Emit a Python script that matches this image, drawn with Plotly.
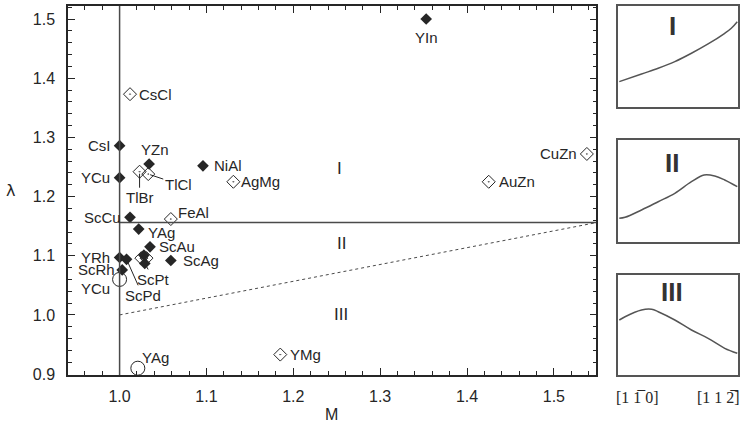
import plotly.graph_objects as go

# ---------------- data ----------------
filled_names = ["YIn", "CsI", "YZn", "NiAl", "YCu", "ScCu", "YAg", "ScAu", "ScAg",
                "YRh", "ScPd", "ScRh", "ScPt", ""]
filled_M = [1.353, 1.000, 1.034, 1.096, 1.000, 1.012, 1.022, 1.035, 1.059,
            1.000, 1.008, 1.003, 1.029, 1.028]
filled_L = [1.500, 1.286, 1.255, 1.252, 1.232, 1.165, 1.145, 1.115, 1.092,
            1.097, 1.094, 1.076, 1.087, 1.101]

open_names = ["CsCl", "TlBr", "TlCl", "AgMg", "AuZn", "CuZn", "FeAl", "YMg", "", ""]
open_M = [1.012, 1.023, 1.033, 1.131, 1.425, 1.538, 1.059, 1.185, 1.025, 1.031]
open_L = [1.373, 1.242, 1.238, 1.225, 1.225, 1.272, 1.162, 0.933, 1.096, 1.096]

circle_names = ["YCu", "YAg"]
circle_M = [1.000, 1.021]
circle_L = [1.060, 0.910]

boundary_M = 1.0
boundary_L = 1.156
dotted_M = [1.0, 1.549]
dotted_L = [1.0, 1.156]

region_names = ["I", "II", "III"]
region_M = [1.253, 1.255, 1.255]
region_L = [1.248, 1.120, 1.000]

# right-hand panels (normalised position along direction, normalised energy)
panel_x_I = [0.008, 0.194, 0.333, 0.472, 0.611, 0.750, 0.889, 0.944, 0.994]
panel_y_I = [0.251, 0.327, 0.383, 0.449, 0.532, 0.624, 0.730, 0.780, 0.845]
panel_x_II = [0.008, 0.056, 0.194, 0.333, 0.472, 0.611, 0.717, 0.806, 0.889, 0.994]
panel_y_II = [0.232, 0.242, 0.314, 0.395, 0.477, 0.591, 0.657, 0.647, 0.608, 0.542]
panel_x_III = [0.008, 0.056, 0.194, 0.278, 0.333, 0.472, 0.611, 0.750, 0.889, 0.994]
panel_y_III = [0.550, 0.583, 0.650, 0.657, 0.633, 0.550, 0.450, 0.367, 0.267, 0.217]
panel_tick_labels = ["[1 1\u0305 0]", "[1 1 2\u0305]"]

# ---------------- styling ----------------
DARK = "#262626"
GRAY = "#4a4a4a"
FONT = "Liberation Sans, Arial, sans-serif"
LAB = dict(family=FONT, size=15, color=DARK)

# label placement: (anchor, xshift, yshift, arrow ax, arrow ay)
filled_place = {
    "YIn": ("center", 0, -18, None, None),
    "CsI": ("right", -7, 0, None, None),
    "YZn": ("center", 6, 15, None, None),
    "NiAl": ("left", 9, 0, None, None),
    "YCu": ("right", -8, 0, None, None),
    "ScCu": ("right", -7, 0, None, None),
    "YAg": ("left", 7, -3, None, None),
    "ScAu": ("left", 7, 0, None, None),
    "ScAg": ("left", 10, 0, None, None),
    "YRh": ("right", -8, 0, None, None),
    "ScPd": ("arrow", 0, 0, 16, 36),
    "ScRh": ("right", -5, 0, None, None),
    "ScPt": ("arrow", 0, 0, 9, 16),
}
open_place = {
    "CsCl": ("left", 7, 0, None, None),
    "TlBr": ("arrow", 0, 0, 0, 26),
    "TlCl": ("arrow", 0, 0, 30, 10),
    "AgMg": ("left", 6, 0, None, None),
    "AuZn": ("left", 8, 0, None, None),
    "CuZn": ("right", -8, 0, None, None),
    "FeAl": ("left", 5, 7, None, None),
    "YMg": ("left", 8, 0, None, None),
}
circle_place = {
    "YCu": ("right", -8, -9, None, None),
    "YAg": ("left", 2, 11, None, None),
}

fig = go.Figure()

# dotted II/III boundary
fig.add_trace(go.Scatter(x=dotted_M, y=dotted_L, mode="lines",
                         line=dict(color=GRAY, width=1, dash="dot"),
                         hoverinfo="skip", showlegend=False))

fig.add_trace(go.Scatter(x=filled_M, y=filled_L, mode="markers",
                         marker=dict(symbol="diamond", size=9, color=DARK,
                                     line=dict(width=0)),
                         showlegend=False))
fig.add_trace(go.Scatter(x=open_M, y=open_L, mode="markers",
                         marker=dict(symbol="diamond-open-dot", size=10, color=DARK,
                                     line=dict(width=1, color=DARK)),
                         showlegend=False))
fig.add_trace(go.Scatter(x=circle_M, y=circle_L, mode="markers",
                         marker=dict(symbol="circle-open", size=14, color=DARK,
                                     line=dict(width=1, color=DARK)),
                         showlegend=False))

# boundary lines
fig.add_shape(type="line", xref="x", yref="y domain", x0=boundary_M, x1=boundary_M,
              y0=0, y1=1, line=dict(color=GRAY, width=1.5))
fig.add_shape(type="line", xref="x", yref="y", x0=boundary_M, x1=dotted_M[1],
              y0=boundary_L, y1=boundary_L, line=dict(color=GRAY, width=1.5))

annotations = []


def add_labels(names, xs, ys, place):
    for n, x, y in zip(names, xs, ys):
        if n not in place:
            continue
        anc, xs_, ys_, ax, ay = place[n]
        if anc == "arrow":
            annotations.append(dict(x=x, y=y, xref="x", yref="y", text=n, font=LAB,
                                    showarrow=True, arrowhead=0, arrowwidth=1,
                                    arrowcolor=DARK, ax=ax, ay=ay, standoff=2))
        else:
            annotations.append(dict(x=x, y=y, xref="x", yref="y", text=n, font=LAB,
                                    showarrow=False, xanchor=anc, yanchor="middle",
                                    xshift=xs_, yshift=ys_))


add_labels(filled_names, filled_M, filled_L, filled_place)
add_labels(open_names, open_M, open_L, open_place)
add_labels(circle_names, circle_M, circle_L, circle_place)

for n, x, y in zip(region_names, region_M, region_L):
    annotations.append(dict(x=x, y=y, xref="x", yref="y", text=n, showarrow=False,
                            font=dict(family=FONT, size=17, color=DARK)))

# axis titles
annotations.append(dict(x=-0.0863, y=0.50, xref="paper", yref="paper", text="λ",
                        xanchor="center", yanchor="middle",
                        showarrow=False, font=dict(family="DejaVu Sans", size=16, color=DARK)))
annotations.append(dict(x=0.394, y=-0.106, xref="paper", yref="paper", text="M",
                        xanchor="center", yanchor="middle",
                        showarrow=False, font=dict(family=FONT, size=16, color=DARK)))

# right-hand panels
panels = [("I", panel_x_I, panel_y_I, [0.7263, 1.0], 0.80),
          ("II", panel_x_II, panel_y_II, [0.3604, 0.6369], 0.77),
          ("III", panel_x_III, panel_y_III, [0.0, 0.271], 0.83)]
for i, (lab, px, py, dom, ly) in enumerate(panels, start=2):
    fig.add_trace(go.Scatter(x=px, y=py, mode="lines", xaxis=f"x{i}", yaxis=f"y{i}",
                             line=dict(color="#555555", width=1.5, shape="spline"),
                             hoverinfo="skip", showlegend=False))
    ax_common = dict(range=[0, 1], showticklabels=False, ticks="", showgrid=False,
                     zeroline=False, showline=True, mirror=True,
                     linecolor="#555555", linewidth=1.5)
    fig.update_layout(**{f"xaxis{i}": dict(domain=[0.8214, 1.0], anchor=f"y{i}", **ax_common),
                         f"yaxis{i}": dict(domain=dom, anchor=f"x{i}", **ax_common)})
    annotations.append(dict(x=0.45, y=ly, xref=f"x{i}", yref=f"y{i}", text=f"<b>{lab}</b>",
                            showarrow=False, font=dict(family=FONT, size=26, color="#333333")))

annotations.append(dict(x=0.158, y=-0.061, xref="x4", yref="paper", text=panel_tick_labels[0],
                        xanchor="center", yanchor="middle",
                        showarrow=False, font=dict(family="Liberation Serif, serif", size=16, color=DARK)))
annotations.append(dict(x=0.84, y=-0.061, xref="x4", yref="paper", text=panel_tick_labels[1],
                        xanchor="center", yanchor="middle",
                        showarrow=False, font=dict(family="Liberation Serif, serif", size=16, color=DARK)))

fig.update_layout(
    width=744, height=425,
    margin=dict(l=68, r=4, t=6, b=50),
    paper_bgcolor="white", plot_bgcolor="white",
    annotations=annotations,
    xaxis=dict(domain=[0, 0.78869], range=[0.9406, 1.549], tick0=1.0, dtick=0.1,
               tickformat=".1f", ticks="inside", ticklen=7, tickcolor=DARK,
               minor=dict(ticks="inside", ticklen=4, dtick=0.02, tick0=1.0, tickcolor=DARK),
               showline=True, mirror="ticks", linecolor=DARK, linewidth=1.5,
               showgrid=False, zeroline=False, ticklabelstandoff=6,
               tickfont=dict(family=FONT, size=16, color=DARK), anchor="y"),
    yaxis=dict(domain=[0, 1], range=[0.8985, 1.522], tick0=0.9, dtick=0.1,
               tickformat=".1f", ticks="inside", ticklen=7, tickcolor=DARK,
               minor=dict(ticks="inside", ticklen=4, dtick=0.02, tick0=0.9, tickcolor=DARK),
               showline=True, mirror="ticks", linecolor=DARK, linewidth=1.5,
               showgrid=False, zeroline=False, ticklabelstandoff=8,
               tickfont=dict(family=FONT, size=16, color=DARK), anchor="x"),
)

fig.write_html("out.html")
